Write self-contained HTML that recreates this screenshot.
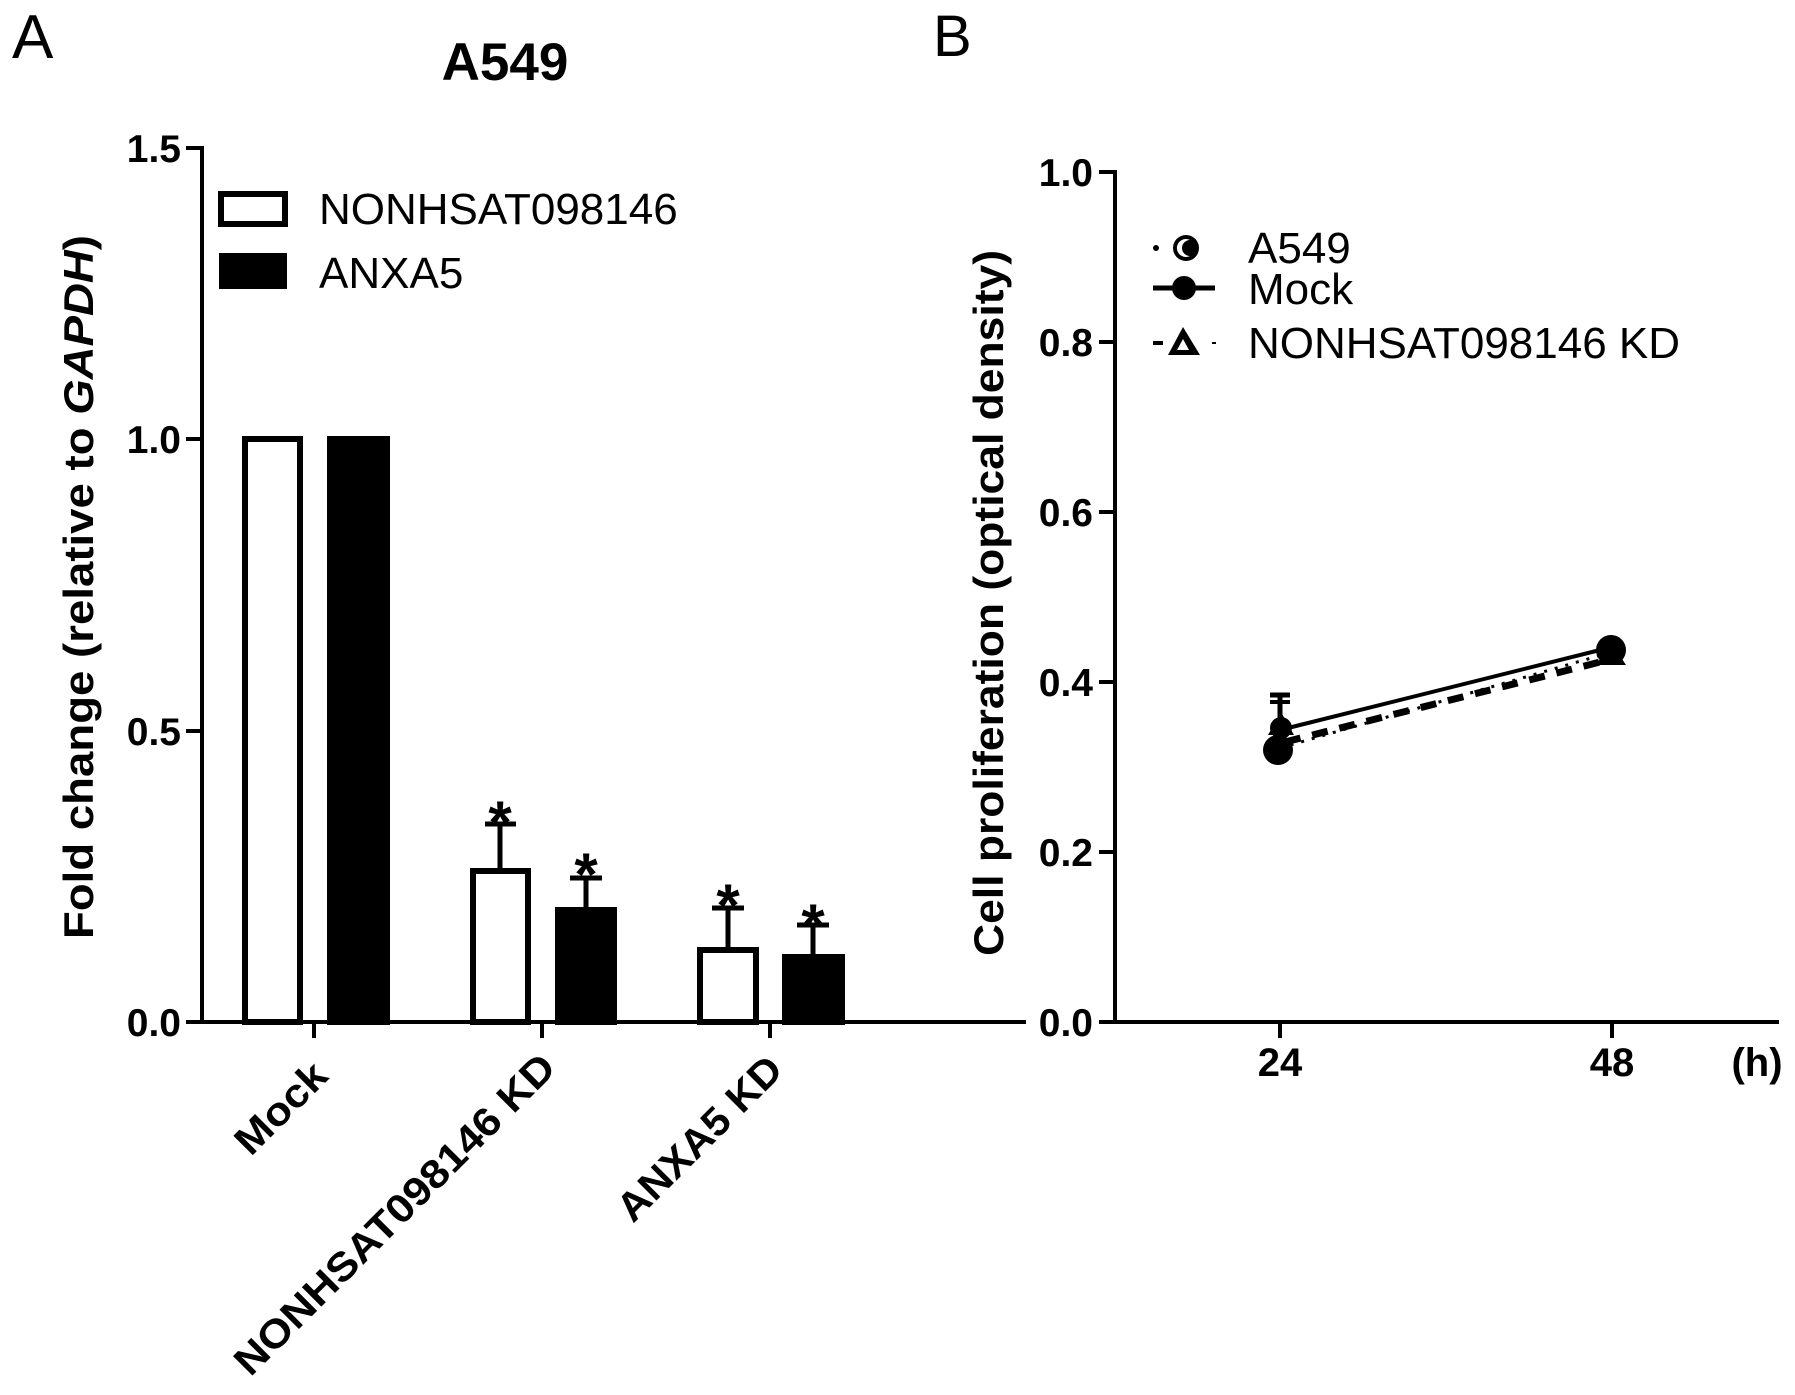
<!DOCTYPE html>
<html><head><meta charset="utf-8"><style>html,body{margin:0;padding:0;background:#fff}svg{display:block}</style></head>
<body>
<svg width="1795" height="1395" viewBox="0 0 1795 1395" xmlns="http://www.w3.org/2000/svg" font-family="Liberation Sans, Arial, sans-serif">
<rect width="1795" height="1395" fill="#fff"/>
<!-- Panel A -->
<text x="12" y="58" font-size="62">A</text>
<text x="505" y="80" font-size="53" font-weight="bold" text-anchor="middle">A549</text>
<g stroke="#000" stroke-width="4" fill="none">
<line x1="202" y1="146" x2="202" y2="1024"/>
<line x1="200" y1="1022" x2="1026" y2="1022"/>
<line x1="186" y1="148" x2="202" y2="148"/>
<line x1="186" y1="439" x2="202" y2="439"/>
<line x1="186" y1="731" x2="202" y2="731"/>
<line x1="186" y1="1022" x2="202" y2="1022"/>
<line x1="314" y1="1022" x2="314" y2="1038"/>
<line x1="542" y1="1022" x2="542" y2="1038"/>
<line x1="770" y1="1022" x2="770" y2="1038"/>
</g>
<g font-size="39" font-weight="bold" text-anchor="end">
<text x="181" y="162">1.5</text>
<text x="181" y="453">1.0</text>
<text x="181" y="745">0.5</text>
<text x="181" y="1036">0.0</text>
</g>
<text transform="translate(93,587) rotate(-90)" font-size="42" font-weight="bold" text-anchor="middle" textLength="704" lengthAdjust="spacingAndGlyphs">Fold change (relative to <tspan font-style="italic">GAPDH</tspan>)</text>
<!-- bars -->
<g stroke="#000" stroke-width="6">
<rect x="245" y="439" width="55" height="583" fill="#fff"/>
<rect x="330" y="439" width="57" height="583" fill="#000"/>
<rect x="473" y="871" width="55" height="151" fill="#fff"/>
<rect x="558" y="910" width="56" height="112" fill="#000"/>
<rect x="700" y="950" width="56" height="72" fill="#fff"/>
<rect x="785" y="957" width="57" height="65" fill="#000"/>
</g>
<g stroke="#000" stroke-width="5">
<line x1="500" y1="868" x2="500" y2="824"/><line x1="485" y1="824" x2="516" y2="824"/>
<line x1="586" y1="907" x2="586" y2="878"/><line x1="570" y1="878" x2="602" y2="878"/>
<line x1="728" y1="947" x2="728" y2="908"/><line x1="712" y1="908" x2="744" y2="908"/>
<line x1="813" y1="954" x2="813" y2="925"/><line x1="797" y1="925" x2="829" y2="925"/>
</g>
<g font-size="60" font-weight="bold" text-anchor="middle">
<text x="500" y="843">*</text>
<text x="586" y="895">*</text>
<text x="728" y="926">*</text>
<text x="813" y="946">*</text>
</g>
<!-- legend A -->
<rect x="221" y="194" width="64" height="30" fill="#fff" stroke="#000" stroke-width="6"/>
<rect x="219" y="253" width="68" height="36" fill="#000"/>
<text x="319" y="224" font-size="44">NONHSAT098146</text>
<text x="319" y="288" font-size="44">ANXA5</text>
<!-- x labels A -->
<g font-size="40" font-weight="bold" text-anchor="end">
<text transform="translate(330,1078) rotate(-45)" textLength="112" lengthAdjust="spacingAndGlyphs">Mock</text>
<text transform="translate(558,1070) rotate(-45)" textLength="435" lengthAdjust="spacingAndGlyphs">NONHSAT098146 KD</text>
<text transform="translate(785,1072) rotate(-45)" textLength="215" lengthAdjust="spacingAndGlyphs">ANXA5 KD</text>
</g>
<!-- Panel B -->
<text x="933" y="56" font-size="58">B</text>
<g stroke="#000" stroke-width="4" fill="none">
<line x1="1115" y1="170" x2="1115" y2="1024"/>
<line x1="1113" y1="1022" x2="1779" y2="1022"/>
<line x1="1099" y1="172" x2="1115" y2="172"/>
<line x1="1099" y1="342" x2="1115" y2="342"/>
<line x1="1099" y1="512" x2="1115" y2="512"/>
<line x1="1099" y1="682" x2="1115" y2="682"/>
<line x1="1099" y1="852" x2="1115" y2="852"/>
<line x1="1099" y1="1022" x2="1115" y2="1022"/>
<line x1="1280" y1="1022" x2="1280" y2="1038"/>
<line x1="1612" y1="1022" x2="1612" y2="1038"/>
</g>
<g font-size="39" font-weight="bold" text-anchor="end">
<text x="1093" y="186">1.0</text>
<text x="1093" y="356">0.8</text>
<text x="1093" y="526">0.6</text>
<text x="1093" y="696">0.4</text>
<text x="1093" y="866">0.2</text>
<text x="1093" y="1036">0.0</text>
</g>
<g font-size="40" font-weight="bold" text-anchor="middle">
<text x="1280" y="1076">24</text>
<text x="1612" y="1076">48</text>
<text x="1757" y="1076">(h)</text>
</g>
<text transform="translate(1003,603) rotate(-90)" font-size="42" font-weight="bold" text-anchor="middle" textLength="706" lengthAdjust="spacingAndGlyphs">Cell proliferation (optical density)</text>
<!-- lines B -->
<line x1="1280" y1="730" x2="1612" y2="647" stroke="#000" stroke-width="4"/>
<line x1="1285" y1="742" x2="1608" y2="660" stroke="#000" stroke-width="7" stroke-dasharray="16,12"/>
<line x1="1280" y1="748" x2="1612" y2="652" stroke="#000" stroke-width="3" stroke-dasharray="3,8"/>
<line x1="1280" y1="730" x2="1280" y2="695" stroke="#000" stroke-width="5"/>
<line x1="1270" y1="695" x2="1290" y2="695" stroke="#000" stroke-width="5"/>
<line x1="1270" y1="702" x2="1290" y2="702" stroke="#000" stroke-width="4"/>
<circle cx="1278" cy="750" r="15" fill="#000"/>
<circle cx="1281" cy="728" r="11" fill="#000"/>
<polygon points="1281,712 1268,735 1294,735" fill="#000"/>
<circle cx="1611" cy="650" r="15" fill="#000"/>
<polygon points="1611,642 1596,665 1626,665" fill="#000"/>
<!-- legend B -->
<circle cx="1156" cy="248" r="3" fill="#000"/>
<circle cx="1186" cy="248" r="13" fill="#000"/>
<path d="M1190,240 a9,9 0 1,0 0,16 a7,7 0 0,1 0,-16z" fill="#fff"/>
<line x1="1153" y1="288" x2="1215" y2="288" stroke="#000" stroke-width="5"/>
<circle cx="1184" cy="288" r="12" fill="#000"/>
<line x1="1153" y1="343" x2="1163" y2="343" stroke="#000" stroke-width="4"/>
<line x1="1212" y1="343" x2="1216" y2="343" stroke="#000" stroke-width="2"/>
<polygon points="1183,327 1168,355 1200,355" fill="#000"/>
<polygon points="1183,339 1177,350 1189,350" fill="#fff"/>
<text x="1248" y="263" font-size="44">A549</text>
<text x="1248" y="304" font-size="44">Mock</text>
<text x="1248" y="358" font-size="44">NONHSAT098146 KD</text>
</svg>
</body></html>
